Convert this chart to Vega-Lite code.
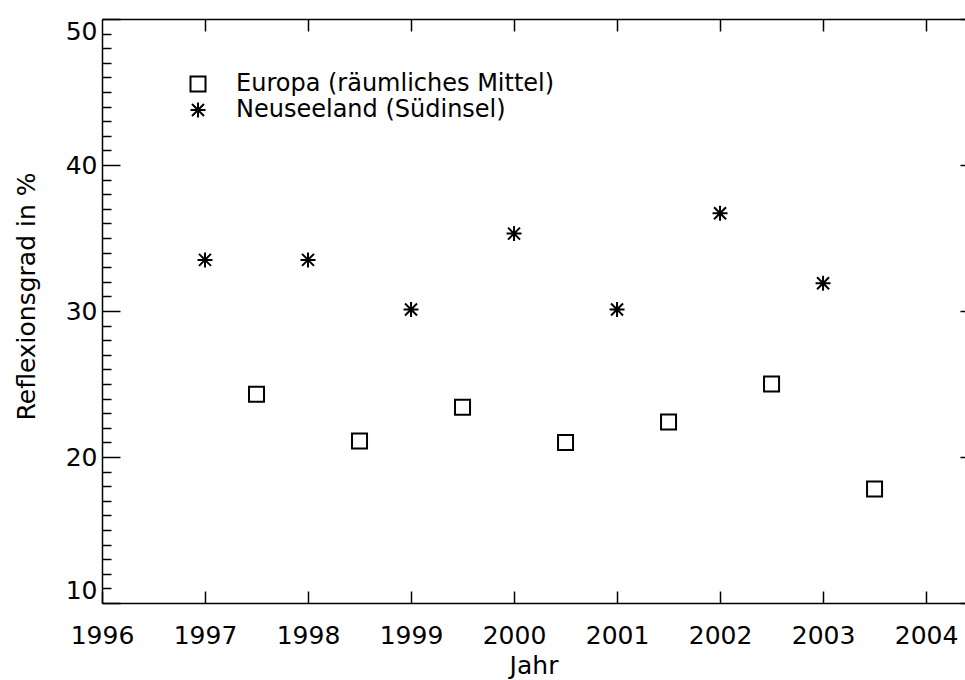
{
  "$schema": "https://vega.github.io/schema/vega-lite/v6.json",
  "width": 863,
  "height": 584,
  "autosize": {"type": "none"},
  "padding": {"left": 102, "top": 19, "right": 0, "bottom": 77},
  "background": "white",
  "config": {
    "view": {"stroke": null},
    "font": "DejaVu Sans",
    "axis": {
      "domainColor": "black", "tickColor": "black", "domainWidth": 1.5, "tickWidth": 1.5,
      "labelColor": "black", "titleColor": "black", "labelFont": "DejaVu Sans", "titleFont": "DejaVu Sans",
      "labelFontSize": 25, "titleFontSize": 25, "titleFontWeight": "normal", "grid": false
    }
  },
  "datasets": {
    "pts": [
      {"Jahr": 1997.5, "Wert": 24.3, "s": "Europa (räumliches Mittel)"},
      {"Jahr": 1998.5, "Wert": 21.1, "s": "Europa (räumliches Mittel)"},
      {"Jahr": 1999.5, "Wert": 23.4, "s": "Europa (räumliches Mittel)"},
      {"Jahr": 2000.5, "Wert": 21.0, "s": "Europa (räumliches Mittel)"},
      {"Jahr": 2001.5, "Wert": 22.4, "s": "Europa (räumliches Mittel)"},
      {"Jahr": 2002.5, "Wert": 25.0, "s": "Europa (räumliches Mittel)"},
      {"Jahr": 2003.5, "Wert": 17.8, "s": "Europa (räumliches Mittel)"},
      {"Jahr": 1997, "Wert": 33.5, "s": "Neuseeland (Südinsel)"},
      {"Jahr": 1998, "Wert": 33.5, "s": "Neuseeland (Südinsel)"},
      {"Jahr": 1999, "Wert": 30.1, "s": "Neuseeland (Südinsel)"},
      {"Jahr": 2000, "Wert": 35.3, "s": "Neuseeland (Südinsel)"},
      {"Jahr": 2001, "Wert": 30.1, "s": "Neuseeland (Südinsel)"},
      {"Jahr": 2002, "Wert": 36.7, "s": "Neuseeland (Südinsel)"},
      {"Jahr": 2003, "Wert": 31.9, "s": "Neuseeland (Südinsel)"}
    ]
  },
  "data": {"name": "pts"},
  "layer": [
    {
      "mark": {"type": "point", "filled": false, "stroke": "black", "strokeWidth": 2, "size": 225, "opacity": 1},
      "encoding": {
        "x": {
          "field": "Jahr", "type": "quantitative",
          "scale": {"domain": [1996, 2004.378], "nice": false, "zero": false},
          "axis": {"orient": "bottom", "values": [1996, 1997, 1998, 1999, 2000, 2001, 2002, 2003, 2004], "format": "d",
                   "tickSize": -12, "labelPadding": 32, "labelFlush": false, "title": "Jahr", "titlePadding": 5}
        },
        "y": {
          "field": "Wert", "type": "quantitative",
          "scale": {"domain": [10, 50], "nice": false, "zero": false},
          "axis": {"orient": "left",
                   "values": [10,11,12,13,14,15,16,17,18,19,20,21,22,23,24,25,26,27,28,29,30,31,32,33,34,35,36,37,38,39,40,41,42,43,44,45,46,47,48,49,50],
                   "labelExpr": "datum.value % 10 === 0 ? datum.label : ''",
                   "tickSize": {"condition": {"test": "datum.value % 10 === 0", "value": -18}, "value": -9},
                   "labelPadding": 23,
                   "labelFlush": true, "title": "Reflexionsgrad in %", "titlePadding": 26, "titleY": 277}
        },
        "shape": {
          "field": "s", "type": "nominal",
          "scale": {"domain": ["Europa (räumliches Mittel)", "Neuseeland (Südinsel)"],
                    "range": ["square", "M0,-1L0,1M-1,0L1,0M-0.8,-0.8L0.8,0.8M-0.8,0.8L0.8,-0.8"]},
          "legend": {"orient": "none", "legendX": 84, "legendY": 53, "title": null, "labelFontSize": 24,
                     "labelFont": "DejaVu Sans", "labelColor": "black", "labelLimit": 0, "symbolSize": 225, "symbolStrokeWidth": 2,
                     "symbolStrokeColor": "black", "symbolFillColor": "transparent", "labelOffset": 26,
                     "rowPadding": 2, "padding": 0}
        }
      }
    },
    {
      "mark": {"type": "point", "opacity": 0},
      "encoding": {
        "x": {
          "field": "Jahr", "type": "quantitative",
          "scale": {"domain": [1996, 2004.378], "nice": false, "zero": false},
          "axis": {"orient": "top", "values": [1997, 1998, 1999, 2000, 2001, 2002, 2003, 2004], "tickSize": -12,
                   "labels": false, "title": null, "domain": true}
        },
        "y": {
          "field": "Wert", "type": "quantitative",
          "scale": {"domain": [10, 50], "nice": false, "zero": false},
          "axis": {"orient": "right", "values": [10, 20, 30, 40, 50], "tickSize": -5, "labels": false, "domain": false, "title": null}
        }
      }
    }
  ],
  "resolve": {"axis": {"x": "independent", "y": "independent"}}
}
